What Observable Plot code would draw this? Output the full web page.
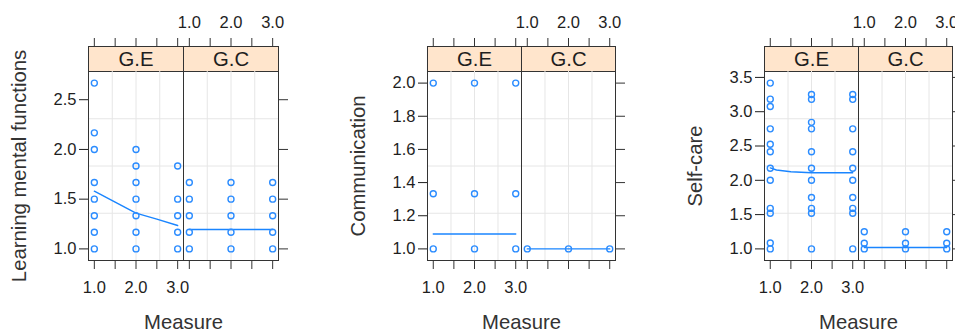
<!DOCTYPE html>
<html><head><meta charset="utf-8">
<script src="https://cdn.jsdelivr.net/npm/d3@7"></script>
<script src="https://cdn.jsdelivr.net/npm/@observablehq/plot@0.6"></script>
<style>
html,body{margin:0;padding:0;background:#fff;overflow:hidden}
#root{position:relative;width:955px;height:334px;overflow:hidden;background:#fff}
</style></head><body><div id="root"></div>
<script>
const groups = ["G.E", "G.C"];
const measures = [1, 2, 3];
const measureTicks = [1, 1.5, 2, 2.5, 3];
const measureLabels = [1, 2, 3];
const xLabel = "Measure";

// Learning mental functions — observed values at Measure 1, 2, 3
const learnGE = [
  [2.667, 2.167, 2.0, 1.667, 1.5, 1.333, 1.167, 1.0],
  [2.0, 1.833, 1.667, 1.5, 1.333, 1.167, 1.0],
  [1.833, 1.5, 1.333, 1.167, 1.0]
];
const learnGC = [
  [1.667, 1.5, 1.333, 1.167, 1.0],
  [1.667, 1.5, 1.333, 1.167, 1.0],
  [1.667, 1.5, 1.333, 1.167, 1.0]
];
const learnFitX = [1, 1.5, 2, 2.5, 3];
const learnFitGE = [1.58, 1.47, 1.36, 1.30, 1.235];
const learnFitGCX = [1, 3];
const learnFitGC = [1.195, 1.195];
const learnTicks = [1.0, 1.5, 2.0, 2.5];

// Communication
const commGE = [
  [2.0, 1.333, 1.0],
  [2.0, 1.333, 1.0],
  [2.0, 1.333, 1.0]
];
const commGC = [[1.0], [1.0], [1.0]];
const commFitX = [1, 3];
const commFitGE = [1.09, 1.09];
const commFitGC = [1.0, 1.0];
const commTicks = [1.0, 1.2, 1.4, 1.6, 1.8, 2.0];

// Self-care
const selfGE = [
  [3.417, 3.183, 3.075, 2.75, 2.525, 2.417, 2.175, 2.0, 1.59, 1.52, 1.085, 1.0],
  [3.25, 3.18, 2.845, 2.75, 2.417, 2.175, 2.0, 1.75, 1.59, 1.52, 1.0],
  [3.25, 3.18, 2.75, 2.417, 2.175, 2.0, 1.75, 1.59, 1.52, 1.0]
];
const selfGC = [
  [1.25, 1.083, 1.0],
  [1.25, 1.083, 1.0],
  [1.25, 1.083, 1.0]
];
const selfFitX = [1, 1.15, 1.5, 2, 3];
const selfFitGE = [2.18, 2.15, 2.125, 2.11, 2.11];
const selfFitGCX = [1, 3];
const selfFitGC = [1.02, 1.02];
const selfTicks = [1.0, 1.5, 2.0, 2.5, 3.0, 3.5];

const panels = [
  {left: 0, width: 318, ml: 88, mr: 40, yLabel: "Learning mental functions", yTicks: learnTicks,
   points: {"G.E": learnGE, "G.C": learnGC},
   fit: {"G.E": [learnFitX, learnFitGE], "G.C": [learnFitGCX, learnFitGC]}},
  {left: 318, width: 318, ml: 108.7, mr: 21.3, yLabel: "Communication", yTicks: commTicks,
   points: {"G.E": commGE, "G.C": commGC},
   fit: {"G.E": [commFitX, commFitGE], "G.C": [commFitX, commFitGC]}},
  {left: 636, width: 319, ml: 127.3, mr: 2.7, yLabel: "Self-care", yTicks: selfTicks,
   points: {"G.E": selfGE, "G.C": selfGC},
   fit: {"G.E": [selfFitX, selfFitGE], "G.C": [selfFitGCX, selfFitGC]}}
];

const H = 334, TOP = 46, STRIP = 25, BOTTOM = 260;
const ink = "#1e1e1e";
const font = "'Liberation Sans', Arial, sans-serif";
const tickFont = 16.5, labelFont = 20.3;

function chart(cfg) {
  const pts = [];
  groups.forEach(g => cfg.points[g].forEach((vals, i) => vals.forEach(v => pts.push({g, x: measures[i], y: v}))));
  const fit = [];
  groups.forEach(g => { const [xs, ys] = cfg.fit[g]; xs.forEach((x, i) => fit.push({g, x, y: ys[i]})); });
  const [lo, hi] = d3.extent(pts, d => d.y);
  const yd = [lo - 0.07 * (hi - lo), hi + 0.07 * (hi - lo)];
  const xd = [1 - 0.14, 3 + 0.14];
  const gx = [1, 2, 3].map(k => xd[0] + k * (xd[1] - xd[0]) / 4);
  const gy = [1, 2, 3].map(k => yd[0] + k * (yd[1] - yd[0]) / 4);
  return Plot.plot({
    width: cfg.width, height: H,
    marginTop: TOP, marginBottom: H - BOTTOM, marginLeft: cfg.ml, marginRight: cfg.mr,
    style: {fontFamily: font, background: "transparent"},
    fx: {domain: groups, padding: 0, axis: null},
    x: {domain: xd},
    y: {domain: yd, range: [BOTTOM, TOP + STRIP]},
    marks: [
      Plot.frame({fill: "#ffe5cc", stroke: "#333", insetBottom: BOTTOM - TOP - STRIP}),
      Plot.ruleX(gx, {x: d => d, y1: () => yd[0], y2: () => yd[1], stroke: "#e6e6e6"}),
      Plot.ruleY(gy, {y: d => d, x1: () => xd[0], x2: () => xd[1], stroke: "#e6e6e6"}),
      Plot.line(fit, {fx: "g", x: "x", y: "y", z: "g", stroke: "#1a85ff", strokeWidth: 1.4}),
      Plot.dot(pts, {fx: "g", x: "x", y: "y", r: 3, stroke: "#2b8cff", strokeWidth: 1.4, fill: "none"}),
      Plot.frame({stroke: "#333"}),
      Plot.axisX({anchor: "bottom", ticks: measureTicks, tickSize: 9, tickFormat: () => "", label: null, color: "#333"}),
      Plot.axisX({anchor: "top", ticks: measureTicks, tickSize: 9, tickFormat: () => "", label: null, color: "#333"}),
      Plot.text(measureLabels, {fx: () => "G.E", x: d => d, text: d => d.toFixed(1), frameAnchor: "bottom", lineAnchor: "middle", dy: 27, fontSize: tickFont, fill: ink}),
      Plot.text(measureLabels, {fx: () => "G.C", x: d => d, text: d => d.toFixed(1), frameAnchor: "top", lineAnchor: "middle", dy: -24, fontSize: tickFont, fill: ink}),
      Plot.axisY({anchor: "left", ticks: cfg.yTicks, tickSize: 9, tickPadding: 3, tickFormat: d => d.toFixed(1), fontSize: tickFont, label: null, color: ink}),
      Plot.axisY({anchor: "right", ticks: cfg.yTicks, tickSize: 9, tickFormat: () => "", label: null, color: "#333"}),
      Plot.text(groups, {fx: d => d, text: d => d, frameAnchor: "top", lineAnchor: "middle", dy: STRIP / 2, fontSize: labelFont, fill: ink}),
      Plot.text([cfg.yLabel], {fx: () => "G.E", y: () => (yd[0] + yd[1]) / 2, frameAnchor: "left", textAnchor: "middle", lineAnchor: "middle", rotate: -90, dx: -69, fontSize: labelFont, fill: "#333"}),
      Plot.text([xLabel], {fx: () => "G.E", x: () => xd[1], frameAnchor: "bottom", lineAnchor: "middle", dy: 62, fontSize: labelFont, fill: "#333"})
    ]
  });
}

const root = document.getElementById("root");
panels.forEach(cfg => {
  const el = chart(cfg);
  el.style.position = "absolute";
  el.style.left = cfg.left + "px";
  el.style.top = "0px";
  root.appendChild(el);
});
</script></body></html>
